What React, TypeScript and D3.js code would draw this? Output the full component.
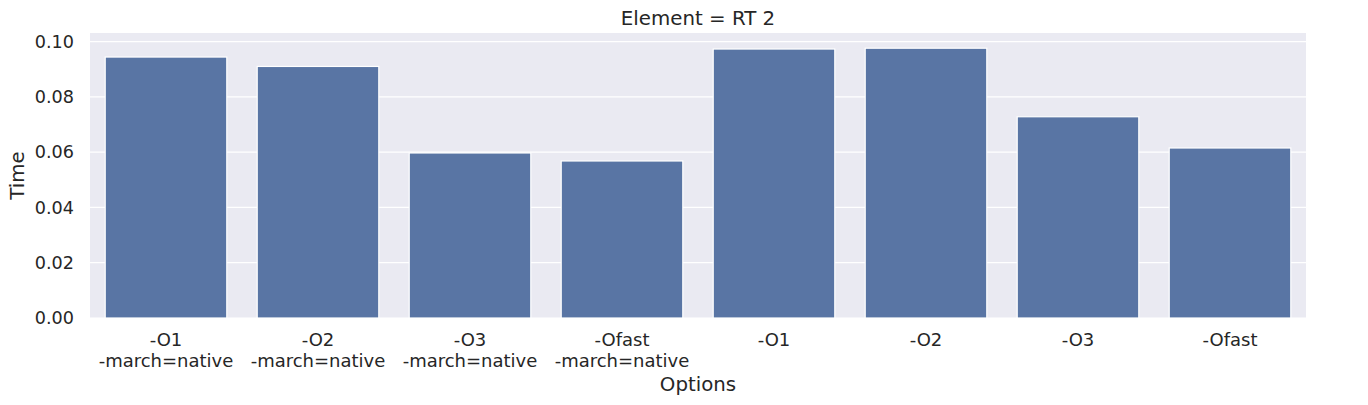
import React from "react";
import * as d3 from "d3";

const categories = [
  "-O1\n-march=native",
  "-O2\n-march=native",
  "-O3\n-march=native",
  "-Ofast\n-march=native",
  "-O1",
  "-O2",
  "-O3",
  "-Ofast",
];
const times = [0.0944, 0.091, 0.0597, 0.0568, 0.0973, 0.0976, 0.0728, 0.0615];
const yTicks = [0, 0.02, 0.04, 0.06, 0.08, 0.1];

const W = 1368;
const H = 405;
const left = 90;
const right = 1306;
const top = 33;
const bottom = 318;
const FONT = "'DejaVu Sans', sans-serif";
const TXT = "#262626";

export default function App() {
  const x = d3.scaleBand<string>().domain(categories).range([left, right]).paddingInner(0.2).paddingOuter(0.1);
  const xc = d3.scaleBand<string>().domain(categories).range([left, right]);
  const y = d3.scaleLinear().domain([0, 0.1031]).range([bottom, top]);
  return (
    <svg width={W} height={H} style={{ position: "absolute", left: 0, top: 0, background: "#fff" }} fontFamily={FONT}>
      <rect x={left} y={top} width={right - left} height={bottom - top} fill="#eaeaf2" />
      {yTicks.map((t) => (
        <g key={t}>
          <line x1={left} x2={right} y1={y(t)} y2={y(t)} stroke="#fff" strokeWidth={1.2} />
          <text x={74} y={y(t)} dy="0.35em" textAnchor="end" fontSize={17.6} fill={TXT}>
            {t.toFixed(2)}
          </text>
        </g>
      ))}
      {categories.map((c, i) => (
        <rect
          key={c}
          x={x(c)!}
          y={y(times[i])}
          width={x.bandwidth()}
          height={y(0) - y(times[i])}
          fill="#5975a4"
          stroke="#fff"
          strokeWidth={1.2}
        />
      ))}
      {categories.map((c) => {
        const cx = xc(c)! + xc.bandwidth() / 2;
        return (
          <text key={c} x={cx} y={340} textAnchor="middle" fontSize={18} fill={TXT}>
            {c.split("\n").map((l, k) => (
              <tspan key={k} x={cx} y={340 + k * 20.5} dy="0.35em">
                {l}
              </tspan>
            ))}
          </text>
        );
      })}
      <text x={(left + right) / 2} y={384} dy="0.35em" textAnchor="middle" fontSize={19.8} fill={TXT}>
        Options
      </text>
      <text
        transform={`translate(17,${(top + bottom) / 2}) rotate(-90)`}
        dy="0.35em"
        textAnchor="middle"
        fontSize={19.8}
        fill={TXT}
      >
        Time
      </text>
      <text x={(left + right) / 2} y={18} dy="0.35em" textAnchor="middle" fontSize={19.8} fill={TXT}>
        Element = RT 2
      </text>
    </svg>
  );
}
